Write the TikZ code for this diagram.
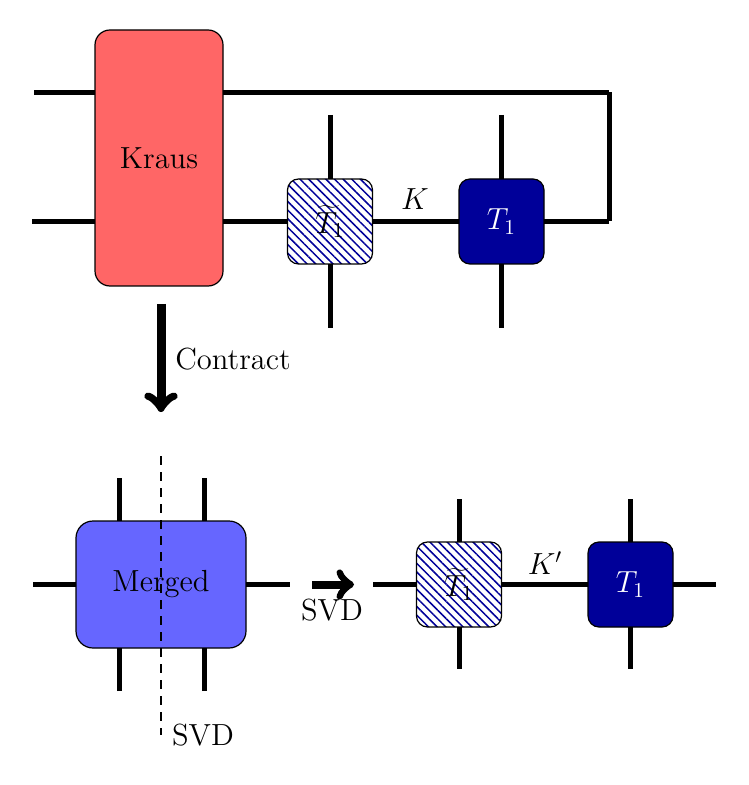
\documentclass[tikz,border=0pt]{standalone}
\usepackage{graphicx}
\usetikzlibrary{patterns.meta}
\definecolor{krausred}{RGB}{255,102,102}
\definecolor{mergedblue}{RGB}{102,102,255}
\definecolor{darkblue}{RGB}{0,0,153}
\newcommand{\lbl}[1]{\scalebox{1.06}{#1}}
\tikzset{
  bond/.style={line width=2.5pt},
  tensorbase/.style={draw=black,line width=0.6pt,inner sep=0pt,outer sep=0pt,font=\Large},
  krausbox/.style={tensorbase,fill=krausred,rounded corners=7.5pt,minimum width=64pt,minimum height=128pt},
  mergedbox/.style={tensorbase,fill=mergedblue,rounded corners=8.5pt,minimum width=85pt,minimum height=63.5pt},
  solidbox/.style={tensorbase,fill=darkblue,text=white,rounded corners=5.5pt,minimum width=42.5pt,minimum height=42.5pt},
  hatchbox/.style={tensorbase,rounded corners=5.5pt,minimum width=42.5pt,minimum height=42.5pt,
    pattern={Lines[angle=-45,distance=3.05pt,line width=0.75pt]},pattern color=darkblue},
  plainlabel/.style={inner sep=0pt,font=\Large},
  bigarrow/.style={->,line width=4.5pt},
  medarrow/.style={->,line width=4pt},
  cutline/.style={dash pattern=on 4.4pt off 3.6pt,line width=1pt}
}
\begin{document}
\begin{tikzpicture}[x=0.5pt,y=-0.5pt]
\useasboundingbox (0,0) rectangle (748,785);
% free ends
\coordinate (kl1) at (34,92.5);
\coordinate (kl2) at (32,221.5);
\coordinate (corner1) at (609,92.5);
\coordinate (corner2) at (609,221.5);
\coordinate (tat) at (330,115);
\coordinate (tab) at (330,328);
\coordinate (tbt) at (501.5,115);
\coordinate (tbb) at (501.5,328);
\coordinate (ml) at (33,584.5);
\coordinate (mr) at (290,584.5);
\coordinate (mt1) at (119,478);
\coordinate (mt2) at (204,478);
\coordinate (mb1) at (119,691);
\coordinate (mb2) at (204,691);
\coordinate (ctop) at (161,456);
\coordinate (cbot) at (161,735);
\coordinate (a1s) at (161,304);
\coordinate (a1e) at (161,412);
\coordinate (a2s) at (312,584.5);
\coordinate (a2e) at (354,584.5);
\coordinate (nl) at (373,584.5);
\coordinate (nr) at (716,584.5);
\coordinate (nat) at (459,499);
\coordinate (nab) at (459,669);
\coordinate (nbt) at (630.5,499);
\coordinate (nbb) at (630.5,669);
% tensors
\node[krausbox] (kraus) at (159,158) {\lbl{Kraus}};
\node[hatchbox] (ta) at (330,221.5) {\lbl{$\widetilde{T}_1$}};
\node[solidbox] (tb) at (501.5,221.5) {\lbl{$T_1$}};
\node[mergedbox] (merged) at (161,584.5) {\lbl{Merged}};
\node[hatchbox] (na) at (459,584.5) {\lbl{$\widetilde{T}_1$}};
\node[solidbox] (nb) at (630.5,584.5) {\lbl{$T_1$}};
% top bonds
\draw[bond] (kl1) -- (kl1 -| kraus.west);
\draw[bond] (kl2) -- (kl2 -| kraus.west);
\draw[bond] (kraus.east |- corner1) -- (corner1);
\draw[bond] (corner1) -- (corner2);
\draw[bond] (corner2) -- (tb.east);
\draw[bond] (kraus.east |- kl2) -- (ta.west);
\draw[bond] (ta.east) -- (tb.west);
\draw[bond] (tat) -- (ta.north);
\draw[bond] (ta.south) -- (tab);
\draw[bond] (tbt) -- (tb.north);
\draw[bond] (tb.south) -- (tbb);
% merged bonds
\draw[bond] (ml) -- (merged.west);
\draw[bond] (merged.east) -- (mr);
\draw[bond] (mt1) -- (mt1 |- merged.north);
\draw[bond] (mt2) -- (mt2 |- merged.north);
\draw[bond] (mb1) -- (mb1 |- merged.south);
\draw[bond] (mb2) -- (mb2 |- merged.south);
\draw[cutline] (ctop) -- (cbot);
% lower right bonds
\draw[bond] (nl) -- (na.west);
\draw[bond] (na.east) -- (nb.west);
\draw[bond] (nb.east) -- (nr);
\draw[bond] (nat) -- (na.north);
\draw[bond] (na.south) -- (nab);
\draw[bond] (nbt) -- (nb.north);
\draw[bond] (nb.south) -- (nbb);
% arrows
\draw[bigarrow] (a1s) -- (a1e);
\draw[medarrow] (a2s) -- (a2e);
% labels
\node[plainlabel] (lk) at (415,199) {\lbl{$K$}};
\node[plainlabel] (lkp) at (545,563) {\lbl{$K'$}};
\node[plainlabel] (lcontract) at (233,359.5) {\lbl{Contract}};
\node[plainlabel] (lsvda) at (332,610.5) {\lbl{SVD}};
\node[plainlabel] (lsvdb) at (203,735.5) {\lbl{SVD}};
\end{tikzpicture}
\end{document}
